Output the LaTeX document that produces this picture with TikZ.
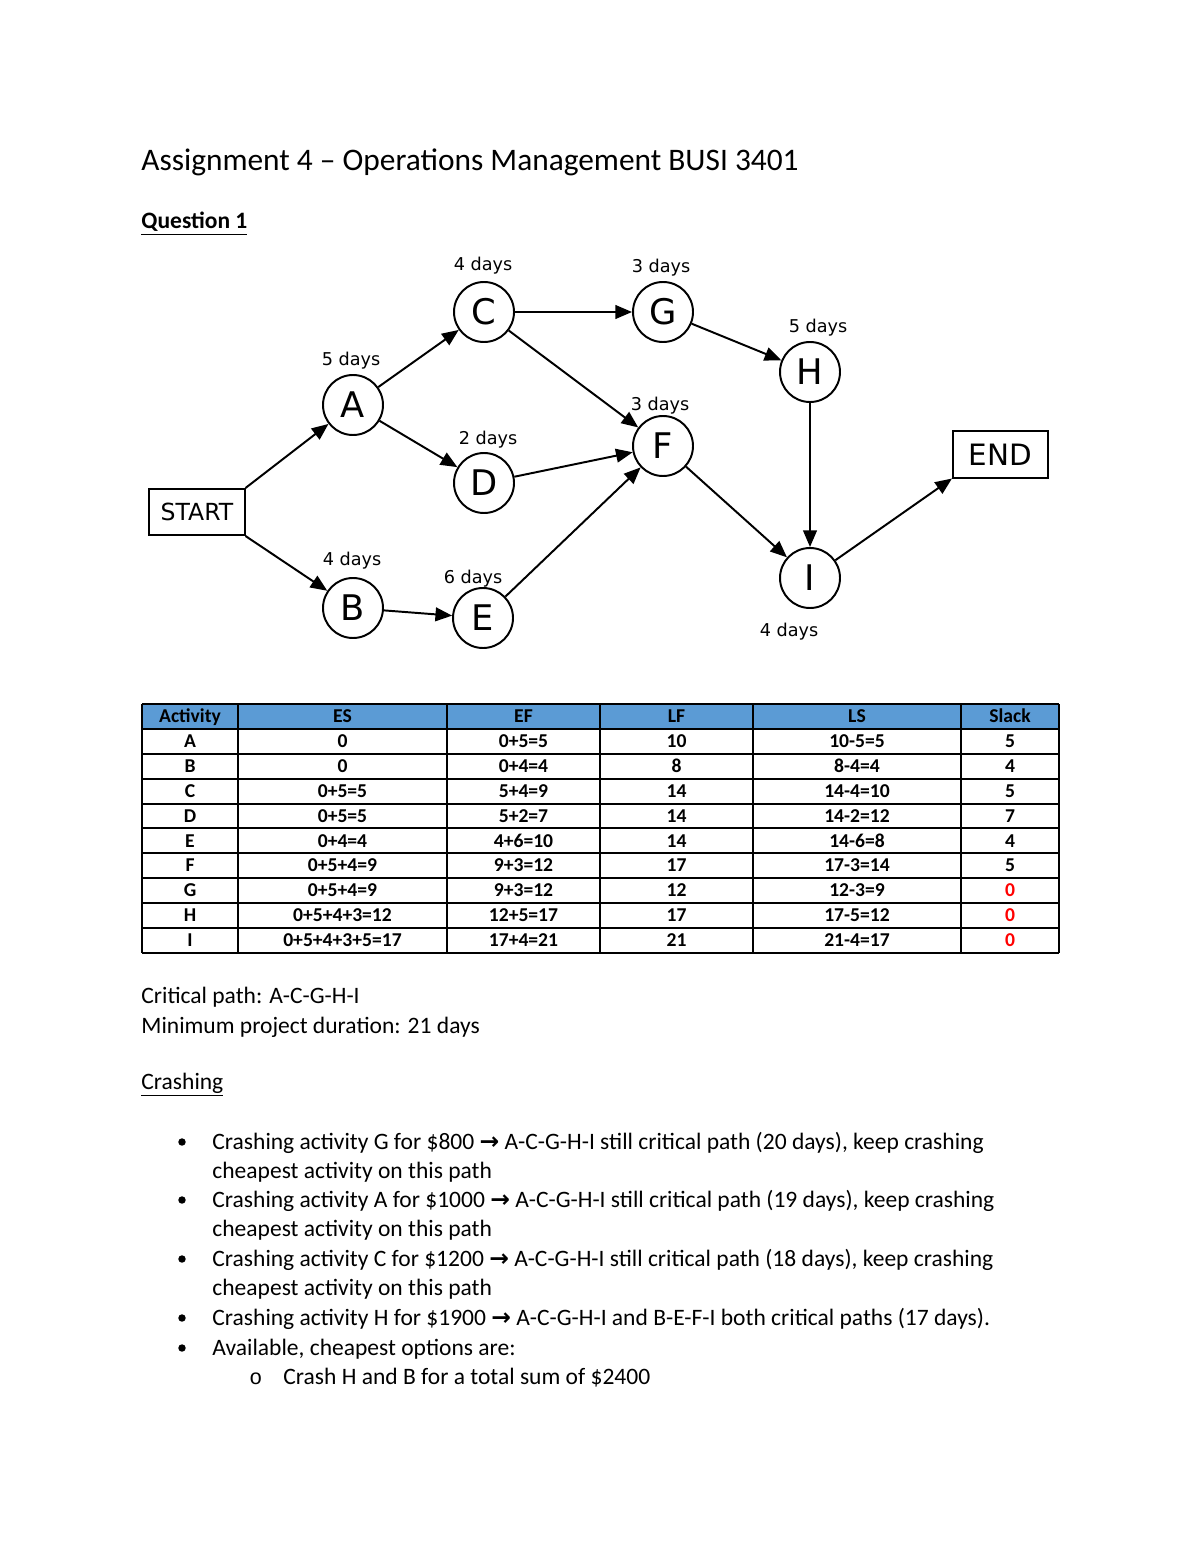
\documentclass[tikz,border=0pt]{standalone}
\usepackage{fontspec}
\setmainfont{Carlito}
\newfontfamily\hand{DejaVu Sans}
\newfontfamily\arrowfont{DejaVu Sans}
\newfontfamily\monofont{Liberation Mono}
\usetikzlibrary{arrows.meta}
\definecolor{hdrblue}{HTML}{5B9BD5}
\tikzset{
  act/.style={circle, draw, line width=1pt, minimum size=30.6pt, inner sep=0pt,
    font=\hand\fontsize{18}{18}\selectfont},
  term/.style={draw, line width=1pt, minimum width=48.5pt, minimum height=23.5pt, inner sep=0pt},
  dur/.style={font=\hand\fontsize{9}{9}\selectfont},
  arr/.style={line width=1pt, -{Triangle[length=8.5pt,width=7pt]}},
  body/.style={anchor=base west, inner sep=0pt, font=\fontsize{12}{14}\selectfont},
  cell/.style={anchor=base, inner sep=0pt, font=\bfseries\fontsize{10}{12}\selectfont},
  grid/.style={line width=1pt},
  bul/.style={circle, fill, inner sep=0pt, minimum size=3.8pt}
}
\begin{document}
\begin{tikzpicture}[x=0.51pt,y=-0.51pt]
\useasboundingbox (0,0) rectangle (1200,1553);
\fill[white] (0,0) rectangle (1200,1553);

% Title
\node[anchor=base west, inner sep=0pt, font=\fontsize{16}{19}\selectfont] (title) at (141,171) {Assignment 4 – Operations Management BUSI 3401};
\node[body, font=\bfseries\fontsize{12}{14}\selectfont] (q1) at (141,229) {\underline{Question 1}};

% Network
\node[term, font=\hand\fontsize{12}{12}\selectfont] (start) at (197,512) {START};
\node[term, font=\hand\fontsize{15}{15}\selectfont] (end) at (1000.5,454.5) {END};
\node[act] (A) at (353,405) {A};
\node[act] (C) at (484,312) {C};
\node[act] (D) at (484,483) {D};
\node[act] (B) at (353,608) {B};
\node[act] (E) at (483,618) {E};
\node[act] (G) at (663,312) {G};
\node[act] (F) at (663,446) {F};
\node[act] (H) at (810,372) {H};
\node[act] (I) at (810,578) {I};

\node[dur] (lA) at (351,361) {5 days};
\node[dur] (lC) at (483,266) {4 days};
\node[dur] (lD) at (488,440) {2 days};
\node[dur] (lB) at (352,561) {4 days};
\node[dur] (lE) at (473,579) {6 days};
\node[dur] (lG) at (661,268) {3 days};
\node[dur] (lF) at (660,406) {3 days};
\node[dur] (lH) at (818,328) {5 days};
\node[dur] (lI) at (789,632) {4 days};

\draw[arr] (start.north east) -- (A);
\draw[arr] (start.south east) -- (B);
\draw[arr] (A) -- (C);
\draw[arr] (A) -- (D);
\draw[arr] (B) -- (E);
\draw[arr] (C) -- (G);
\draw[arr] (C) -- (F);
\draw[arr] (D) -- (F);
\draw[arr] (E) -- (F);
\draw[arr] (G) -- (H);
\draw[arr] (F) -- (I);
\draw[arr] (H) -- (I);
\draw[arr] (I) -- (end.south west);

% Table
\fill[hdrblue] (142,704) rectangle (1059,729);
\foreach \yy in {704,729,754,779,804,828,853,878,903,928,953}
  \draw[grid] (142,\yy) -- (1059,\yy);
\foreach \xx in {142,238,447,600,753,961,1059}
  \draw[grid] (\xx,704) -- (\xx,953);
\foreach \xx/\t in {190/Activity,342.5/ES,523.5/EF,676.5/LF,857/LS,1010/Slack}
  \node[cell] at (\xx,722) {\t};
\foreach \r/\a/\b/\c/\d/\e/\f in {
  1/A/0/0+5=5/10/10-5=5/5,
  2/B/0/0+4=4/8/8-4=4/4,
  3/C/0+5=5/5+4=9/14/14-4=10/5,
  4/D/0+5=5/5+2=7/14/14-2=12/7,
  5/E/0+4=4/4+6=10/14/14-6=8/4,
  6/F/0+5+4=9/9+3=12/17/17-3=14/5,
  7/G/0+5+4=9/9+3=12/12/12-3=9/\textcolor{red}{0},
  8/H/0+5+4+3=12/12+5=17/17/17-5=12/\textcolor{red}{0},
  9/I/0+5+4+3+5=17/17+4=21/21/21-4=17/\textcolor{red}{0}}
{
  \node[cell] at (190,{729+(\r-0.5)*24.9+6}) {\a};
  \node[cell] at (342.5,{729+(\r-0.5)*24.9+6}) {\b};
  \node[cell] at (523.5,{729+(\r-0.5)*24.9+6}) {\c};
  \node[cell] at (676.5,{729+(\r-0.5)*24.9+6}) {\d};
  \node[cell] at (857,{729+(\r-0.5)*24.9+6}) {\e};
  \node[cell] at (1010,{729+(\r-0.5)*24.9+6}) {\f};
}

% Text below
\node[body] (cp) at (141,1003) {Critical path: A-C-G-H-I};
\node[body] (md) at (141,1033) {Minimum project duration: 21 days};
\node[body] (cr) at (141,1089) {\underline{Crashing}};

\def\arw{{\arrowfont\bfseries →}}
\node[bul] (b1) at (182,1142) {};
\node[body] (t1) at (212,1149) {Crashing activity G for \$800 \arw{} A-C-G-H-I still critical path (20 days), keep crashing};
\node[body] (t1b) at (212,1178) {cheapest activity on this path};
\node[bul] (b2) at (182,1200) {};
\node[body] (t2) at (212,1207) {Crashing activity A for \$1000 \arw{} A-C-G-H-I still critical path (19 days), keep crashing};
\node[body] (t2b) at (212,1236) {cheapest activity on this path};
\node[bul] (b3) at (182,1259) {};
\node[body] (t3) at (212,1266) {Crashing activity C for \$1200 \arw{} A-C-G-H-I still critical path (18 days), keep crashing};
\node[body] (t3b) at (212,1295) {cheapest activity on this path};
\node[bul] (b4) at (182,1318) {};
\node[body] (t4) at (212,1325) {Crashing activity H for \$1900 \arw{} A-C-G-H-I and B-E-F-I both critical paths (17 days).};
\node[bul] (b5) at (182,1348) {};
\node[body] (t5) at (212,1355) {Available, cheapest options are:};
\node[body, font=\monofont\fontsize{11}{13}\selectfont] (o1) at (249,1384) {o};
\node[body] (t6) at (283,1384) {Crash H and B for a total sum of \$2400};
\end{tikzpicture}
\end{document}
